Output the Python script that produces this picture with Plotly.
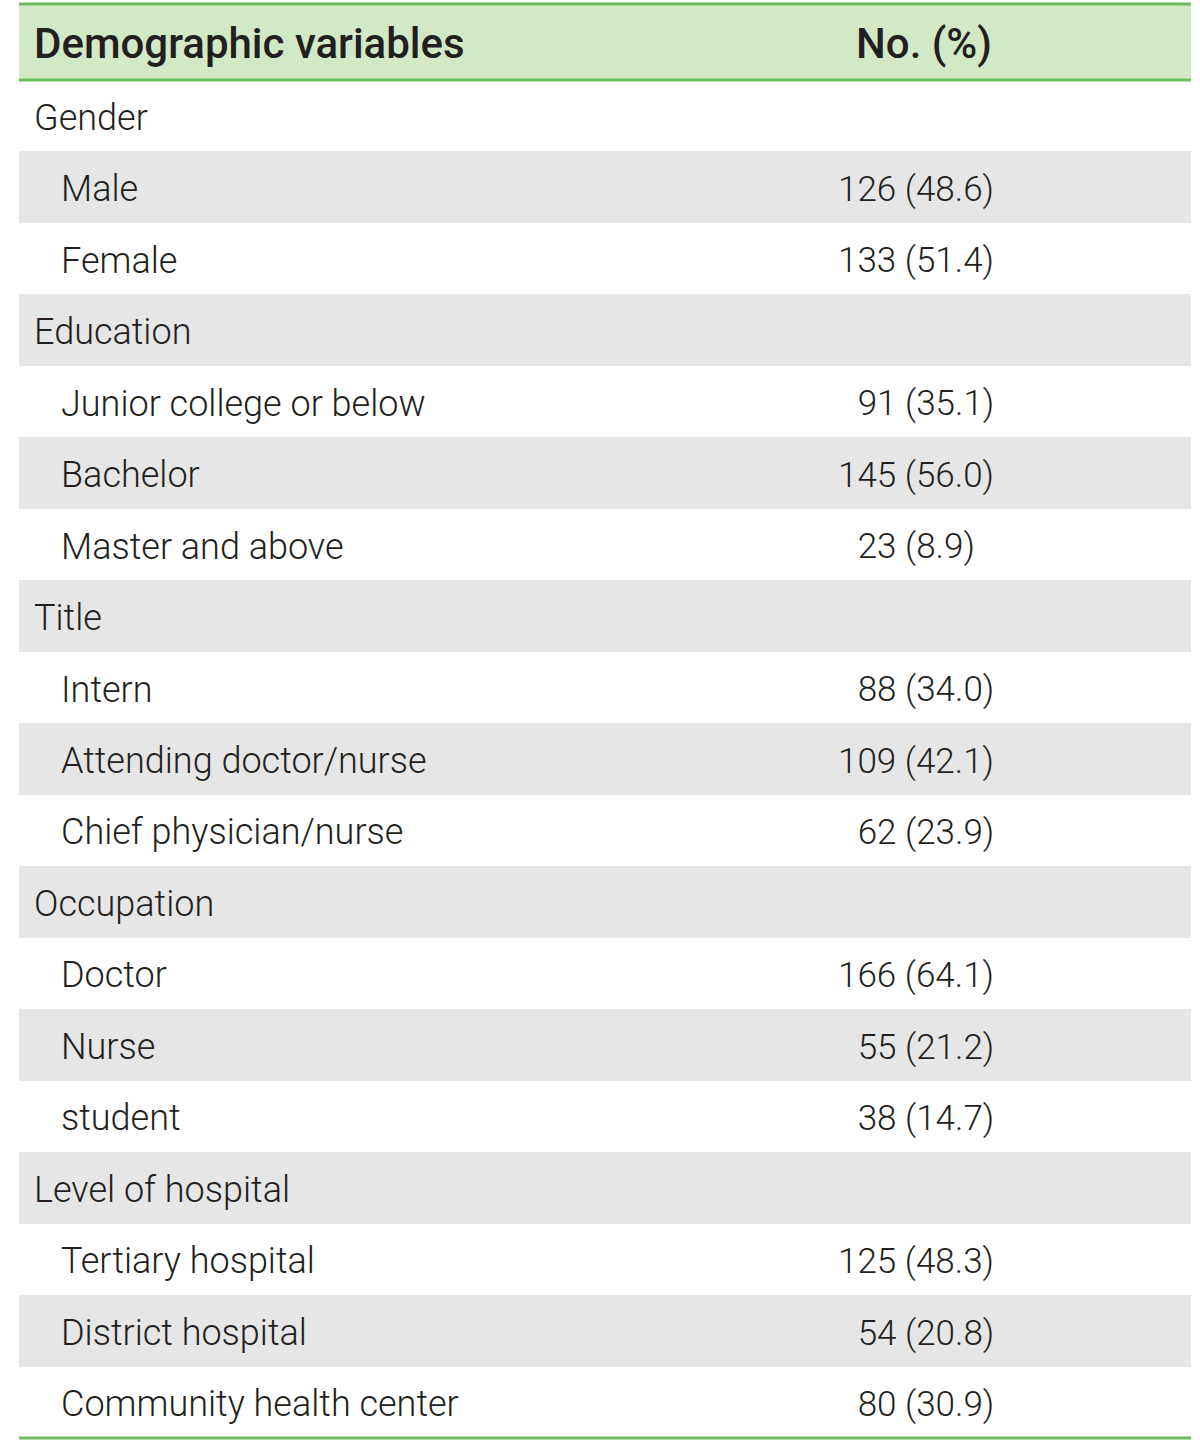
import plotly.graph_objects as go

# ---- data ----
header_labels = ["Demographic variables", "No. (%)"]

labels = [
    "Gender", "Male", "Female",
    "Education", "Junior college or below", "Bachelor", "Master and above",
    "Title", "Intern", "Attending doctor/nurse", "Chief physician/nurse",
    "Occupation", "Doctor", "Nurse", "student",
    "Level of hospital", "Tertiary hospital", "District hospital", "Community health center",
]
is_category = [True, False, False,
               True, False, False, False,
               True, False, False, False,
               True, False, False, False,
               True, False, False, False]
counts = [None, 126, 133,
          None, 91, 145, 23,
          None, 88, 109, 62,
          None, 166, 55, 38,
          None, 125, 54, 80]
percents = [None, 48.6, 51.4,
            None, 35.1, 56.0, 8.9,
            None, 34.0, 42.1, 23.9,
            None, 64.1, 21.2, 14.7,
            None, 48.3, 20.8, 30.9]

# ---- styling / layout (pixel-based axes) ----
W, H = 1200, 1445
FONT = "Roboto, sans-serif"
TEXT = "#231f20"
GREEN = "#6cbd5b"
HEAD_FILL = "#d3e8c5"
GRAY = "#e6e6e6"

X0, X1 = 19, 1191              # table left/right edges
X_CAT, X_SUB, X_NUM, X_HEAD2 = 34, 61, 838, 856
TOP, HEAD_H, BOTTOM = 4, 76, 1438
TEXT_DY = 5
n = len(labels)
ROW_H = (BOTTOM - TOP - HEAD_H) / n

FIG = "\u2007"

centers = [TOP + HEAD_H + (i + 0.5) * ROW_H for i in range(n)]
text_y = [c + TEXT_DY for c in centers]
fills = ["white" if i % 2 == 0 else GRAY for i in range(n)]

num_text = []
for c, p in zip(counts, percents):
    if c is None:
        num_text.append("")
    else:
        s = f"{c} ({p:.1f})"
        num_text.append(s if c >= 100 else FIG + s)

fig = go.Figure()

# row backgrounds
fig.add_trace(go.Bar(
    orientation="h", y=centers, x=[X1 - X0] * n, base=X0, width=ROW_H,
    marker=dict(color=fills, line=dict(width=0)), hoverinfo="skip",
))
# header background
fig.add_trace(go.Bar(
    orientation="h", y=[TOP + HEAD_H / 2], x=[X1 - X0], base=X0, width=HEAD_H,
    marker=dict(color=HEAD_FILL, line=dict(width=0)), hoverinfo="skip",
))

# header text
fig.add_trace(go.Scatter(
    mode="text", x=[X_CAT, X_HEAD2], y=[TOP + HEAD_H / 2 + TEXT_DY] * 2,
    text=header_labels, textposition="middle right",
    textfont=dict(family=FONT, size=42, color=TEXT, weight=500),
    hoverinfo="skip",
))

# label column
fig.add_trace(go.Scatter(
    mode="text",
    x=[X_CAT if cat else X_SUB for cat in is_category],
    y=text_y, text=labels, textposition="middle right",
    textfont=dict(family=FONT, size=36, color=TEXT, weight=300),
    hoverinfo="skip",
))

# value column
fig.add_trace(go.Scatter(
    mode="text", x=[X_NUM] * n, y=text_y, text=num_text,
    textposition="middle right",
    textfont=dict(family=FONT, size=35, color=TEXT, weight=300),
    hoverinfo="skip",
))

for yy in (TOP, TOP + HEAD_H, BOTTOM):
    fig.add_shape(type="line", xref="x", yref="y", x0=X0, x1=X1, y0=yy, y1=yy,
                  line=dict(color=GREEN, width=3), layer="above")

fig.update_layout(
    width=W, height=H, margin=dict(l=0, r=0, t=0, b=0),
    paper_bgcolor="white", plot_bgcolor="white",
    showlegend=False, bargap=0, hovermode=False,
    xaxis=dict(range=[0, W], visible=False, fixedrange=True),
    yaxis=dict(range=[H, 0], visible=False, fixedrange=True),
)
fig.write_html("out.html", config={"displayModeBar": False},
               post_script="document.body.style.margin='0';")
